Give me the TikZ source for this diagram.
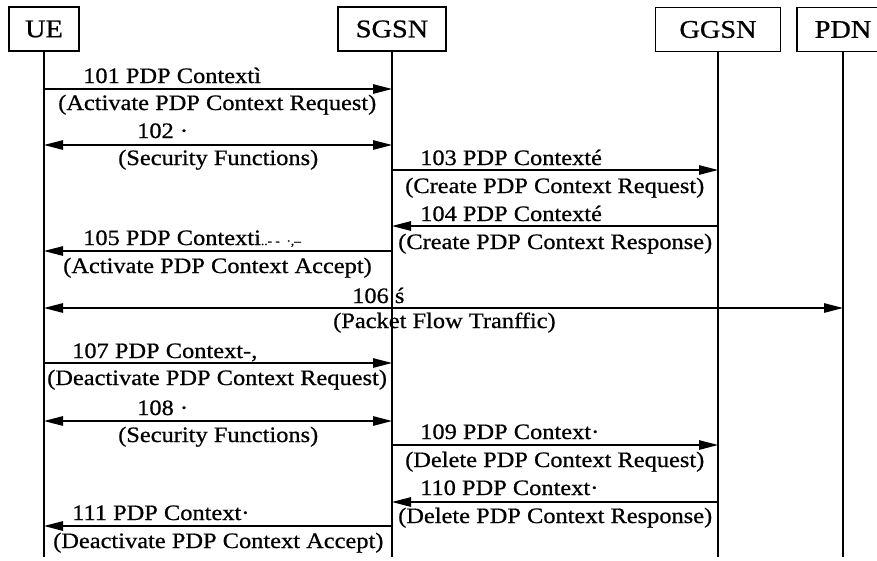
\documentclass[tikz,border=0pt]{standalone}
\usepackage{fontspec}
\setmainfont{Liberation Serif}[FakeStretch=1.11,FakeBold=0.7]
\usetikzlibrary{arrows.meta}

\tikzset{
  entity/.style={draw, line width=1.2pt, minimum height=44pt, inner sep=0pt, font=\fontsize{25.5}{26}\selectfont},
  life/.style={line width=1.1pt},
  msg/.style={line width=1.2pt, -{Triangle[length=19pt,width=9.5pt]}},
  dmsg/.style={line width=1.2pt, {Triangle[length=19pt,width=9.5pt]}-{Triangle[length=19pt,width=9.5pt]}},
  txt/.style={anchor=base west, inner sep=0pt, font=\fontsize{22}{24}\selectfont}
}

\begin{document}
\begin{tikzpicture}[x=1pt,y=-1pt]
\useasboundingbox (0,0) rectangle (877,560);
\fill[white] (0,0) rectangle (877,560);

\node[entity, minimum width=70pt] (ue) at (44,29) {UE};
\node[entity, minimum width=108pt] (sgsn) at (392,29) {SGSN};
\node[entity, minimum width=125pt] (ggsn) at (718,29.5) {GGSN};
\node[entity, minimum width=92pt] (pdn) at (843,29.5) {PDN};

\coordinate (bottom) at (0,557);
\draw[life] (ue.south) -- (ue |- bottom);
\draw[life] (sgsn.south) -- (sgsn |- bottom);
\draw[life] (ggsn.south) -- (ggsn |- bottom);
\draw[life] (pdn.south) -- (pdn |- bottom);

\coordinate (m101) at (0,89);
\coordinate (m102) at (0,145);
\coordinate (m103) at (0,170);
\coordinate (m104) at (0,226);
\coordinate (m105) at (0,251);
\coordinate (m106) at (0,308);
\coordinate (m107) at (0,363);
\coordinate (m108) at (0,421);
\coordinate (m109) at (0,445);
\coordinate (m110) at (0,502);
\coordinate (m111) at (0,526);

\draw[msg] (ue |- m101) -- (sgsn |- m101);
\node[txt] (t101) at (83,83) {101 PDP Contextì};
\node[txt] (c101) at (58,110) {(Activate PDP Context Request)};

\draw[dmsg] (ue |- m102) -- (sgsn |- m102);
\node[txt] (t102) at (137,138) {102 ·};
\node[txt] (c102) at (118,165) {(Security Functions)};

\draw[msg] (sgsn |- m103) -- (ggsn |- m103);
\node[txt] (t103) at (420,165) {103 PDP Contexté};
\node[txt] (c103) at (405,193) {(Create PDP Context Request)};

\draw[msg] (ggsn |- m104) -- (sgsn |- m104);
\node[txt] (t104) at (420,221) {104 PDP Contexté};
\node[txt] (c104) at (398,249) {(Create PDP Context Response)};

\draw[msg] (sgsn |- m105) -- (ue |- m105);
\node[txt] (t105) at (83,245) {105 PDP Contexti{\fontsize{12}{12}\selectfont ..- -\ \ ·,–}};
\node[txt] (c105) at (63,273) {(Activate PDP Context Accept)};

\draw[dmsg] (ue |- m106) -- (pdn |- m106);
\node[txt] (t106) at (352,303) {106 ś};
\node[txt] (c106) at (333,328) {(Packet Flow Tranffic)};

\draw[msg] (ue |- m107) -- (sgsn |- m107);
\node[txt] (t107) at (72,358) {107 PDP Context-,};
\node[txt] (c107) at (47,385) {(Deactivate PDP Context Request)};

\draw[dmsg] (ue |- m108) -- (sgsn |- m108);
\node[txt] (t108) at (137,415) {108 ·};
\node[txt] (c108) at (118,442) {(Security Functions)};

\draw[msg] (sgsn |- m109) -- (ggsn |- m109);
\node[txt] (t109) at (420,439) {109 PDP Context·};
\node[txt] (c109) at (405,467) {(Delete PDP Context Request)};

\draw[msg] (ggsn |- m110) -- (sgsn |- m110);
\node[txt] (t110) at (420,495) {110 PDP Context·};
\node[txt] (c110) at (398,523) {(Delete PDP Context Response)};

\draw[msg] (sgsn |- m111) -- (ue |- m111);
\node[txt] (t111) at (72,520) {111 PDP Context·};
\node[txt] (c111) at (53,548) {(Deactivate PDP Context Accept)};

\end{tikzpicture}
\end{document}
